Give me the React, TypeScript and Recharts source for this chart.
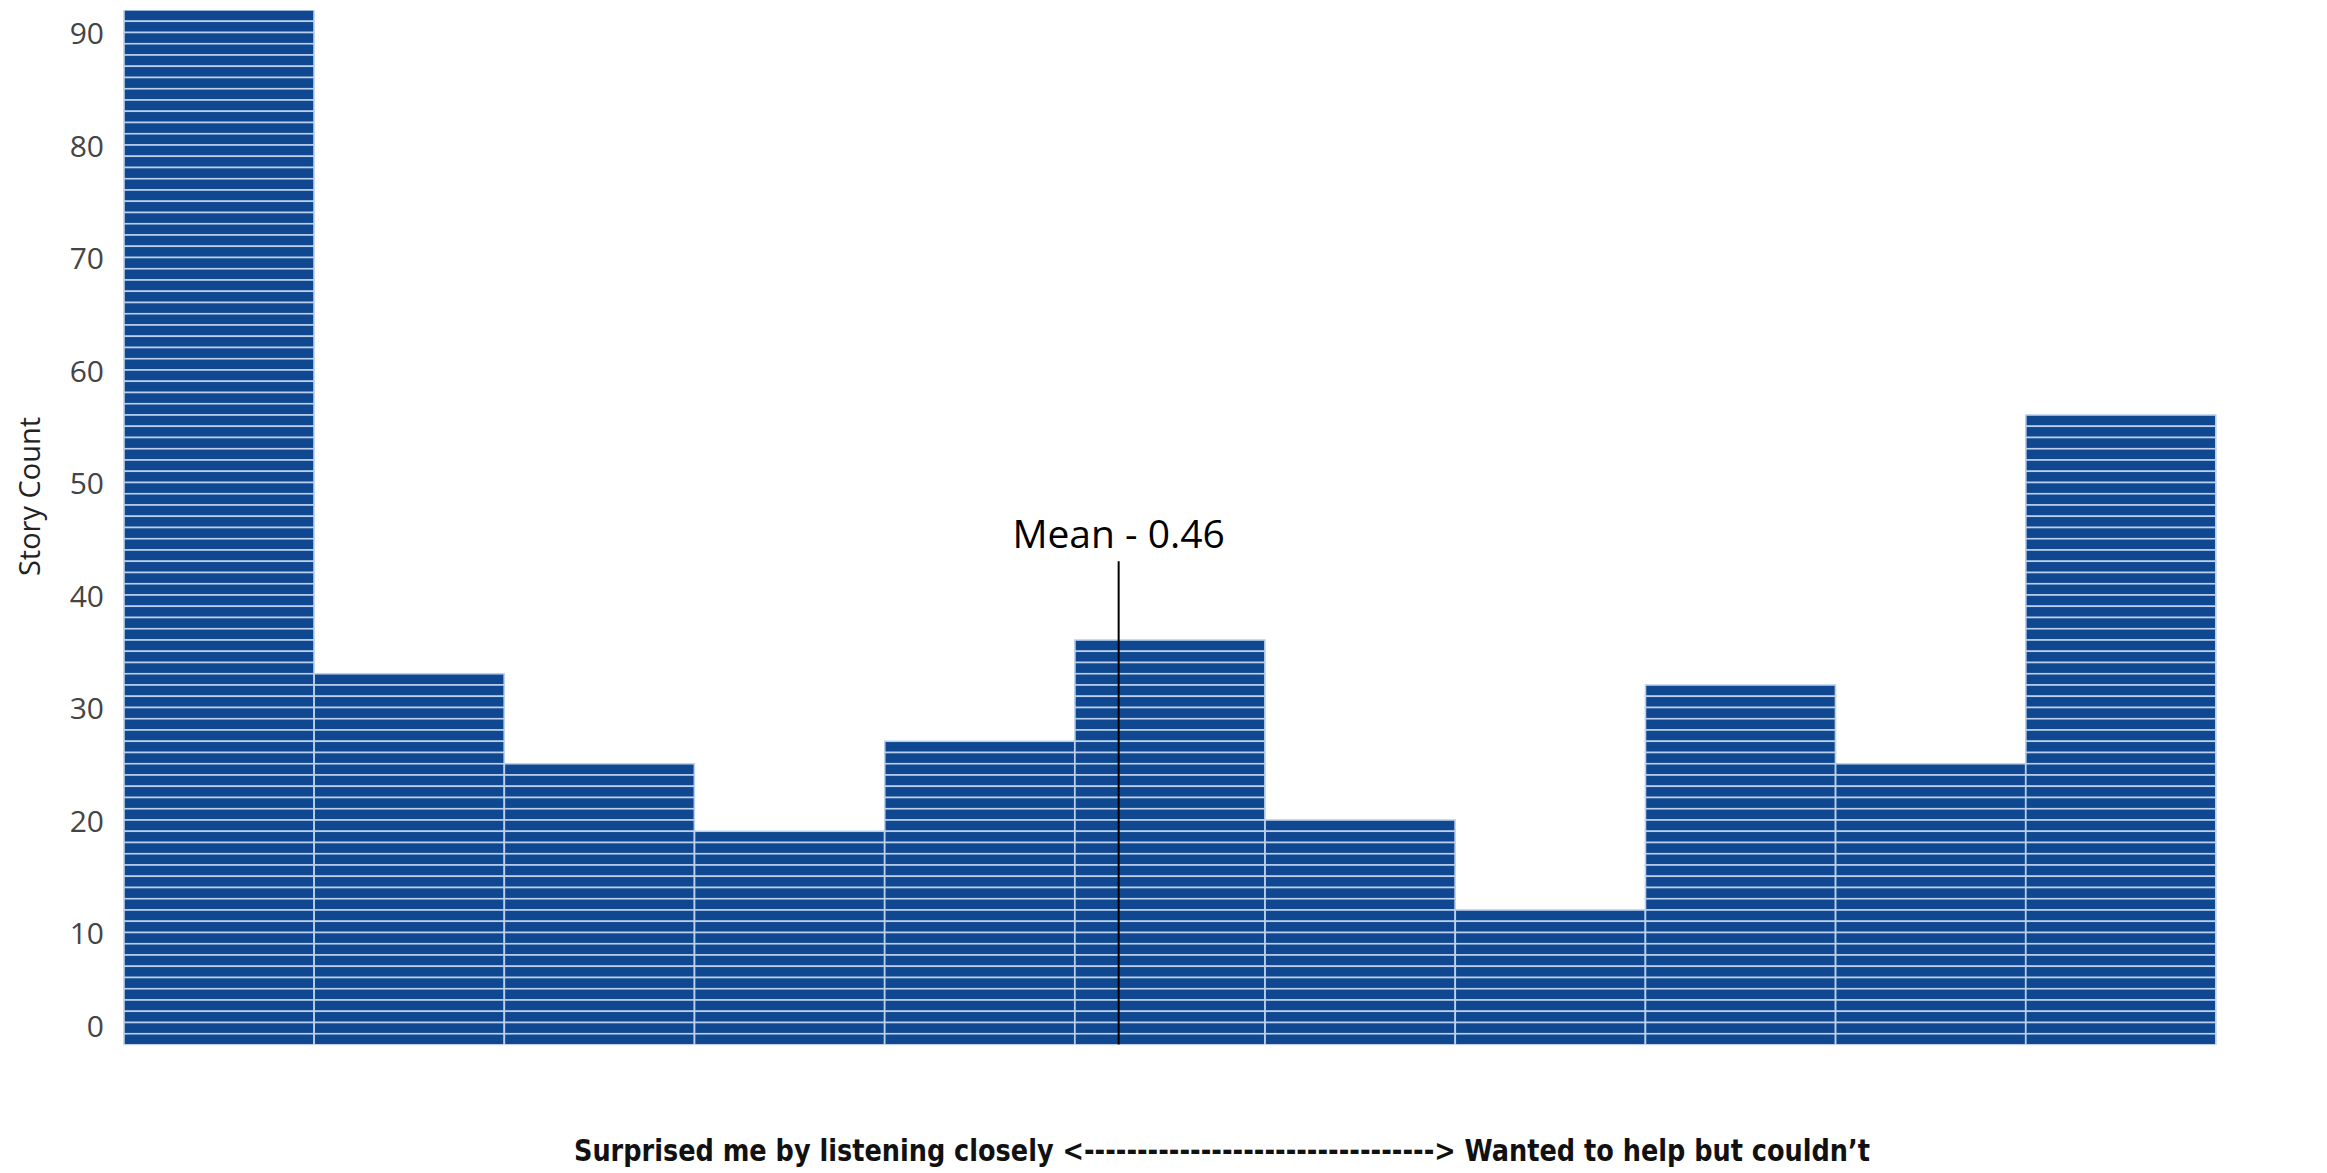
import React from 'react';
import {
  BarChart,
  Bar,
  XAxis,
  YAxis,
  ReferenceLine,
} from 'recharts';

// bins of the score, left to right
const BIN_LABELS = ['0.0', '0.1', '0.2', '0.3', '0.4', '0.5', '0.6', '0.7', '0.8', '0.9', '1.0'];
const BIN_CENTERS = [0, 0.1, 0.2, 0.3, 0.4, 0.5, 0.6, 0.7, 0.8, 0.9, 1.0];
// number of stories per bin
const STORY_COUNTS = [92, 33, 25, 19, 27, 36, 20, 12, 32, 25, 56];
const Y_TICKS = [0, 10, 20, 30, 40, 50, 60, 70, 80, 90];
const MEAN = 0.46;
const MEAN_LINE_TOP = 43;
const Y_TITLE = 'Story Count';
const X_TITLE =
  'Surprised me by listening closely <' + '-'.repeat(33) + '> Wanted to help but couldn\u2019t';

const FILL = '#0f4890';
const UNIT_LINE = '#bcd0ec';
const SANS = "'Open Sans', 'Noto Sans', sans-serif";

const data = BIN_LABELS.map((bin, i) => ({
  bin,
  center: BIN_CENTERS[i],
  count: STORY_COUNTS[i],
}));

// one rectangle per story, stacked up to the bar height
const UnitStack = (props: any) => {
  const { x, y, width, height } = props;
  const n = props.payload?.count ?? props.value;
  if (!n || !height) return null;
  const unit = height / n;
  const rows = [];
  for (let i = 0; i < n; i++) {
    rows.push(
      <rect
        key={i}
        x={x}
        y={y + i * unit}
        width={width}
        height={unit}
        fill={FILL}
        stroke={UNIT_LINE}
        strokeWidth={1.6}
      />
    );
  }
  return <g>{rows}</g>;
};

const YTick = (props: any) => {
  const { x, y, payload } = props;
  // tableau pushes the 0 label up a bit so it doesn't hit the floor
  const dy = payload.value === 0 ? -20 : 0;
  return (
    <text
      x={x}
      y={y + dy}
      textAnchor="end"
      dominantBaseline="central"
      fontSize={30}
      fontFamily={SANS}
      fill="#444"
    >
      {payload.value}
    </text>
  );
};

const YTitle = (props: any) => {
  const vb = props.viewBox;
  const cx = 28;
  const cy = vb.y + vb.height / 2 - 31;
  return (
    <text
      x={cx}
      y={cy}
      transform={`rotate(-90 ${cx} ${cy})`}
      textAnchor="middle"
      dominantBaseline="central"
      fontSize={29}
      fontFamily={SANS}
      fill="#222"
    >
      {Y_TITLE}
    </text>
  );
};

const XTitle = (props: any) => {
  const vb = props.viewBox;
  const cx = vb.x + vb.width / 2 + 52;
  return (
    <text
      x={cx}
      y={1150}
      textAnchor="middle"
      dominantBaseline="central"
      fontSize={31}
      fontWeight="bold"
      fontFamily="'Liberation Sans Narrow', 'DejaVu Sans Condensed', 'Open Sans', sans-serif"
      fill="#111"
      textLength={1296}
      lengthAdjust="spacingAndGlyphs"
    >
      {X_TITLE}
    </text>
  );
};

export default function App() {
  return (
    <div style={{ width: 2327, height: 1173, background: '#fff' }}>
      <style>{'body{margin:0}'}</style>
      <BarChart
        width={2327}
        height={1173}
        data={data}
        barCategoryGap={0}
        margin={{ top: 10, right: 111, left: 0, bottom: 0 }}
      >
        <XAxis
          dataKey="bin"
          tick={false}
          tickLine={false}
          axisLine={{ stroke: '#eeeeee' }}
          height={128}
          label={<XTitle />}
        />
        <XAxis
          xAxisId="num"
          dataKey="center"
          type="number"
          domain={[-0.063, 1.037]}
          allowDataOverflow
          hide
        />
        <YAxis
          domain={[0, 92]}
          ticks={Y_TICKS}
          allowDataOverflow
          width={124}
          tickLine={false}
          axisLine={false}
          tickMargin={14}
          tick={<YTick />}
          label={<YTitle />}
        />
        <Bar dataKey="count" isAnimationActive={false} shape={<UnitStack />} />
        <ReferenceLine
          xAxisId="num"
          segment={[
            { x: MEAN, y: 0 },
            { x: MEAN, y: MEAN_LINE_TOP },
          ]}
          stroke="#000"
          strokeWidth={2}
          ifOverflow="visible"
          label={{
            value: `Mean - ${MEAN}`,
            position: 'top',
            offset: 13,
            fontSize: 39,
            fontFamily: SANS,
            fill: '#000',
          }}
        />
      </BarChart>
    </div>
  );
}
